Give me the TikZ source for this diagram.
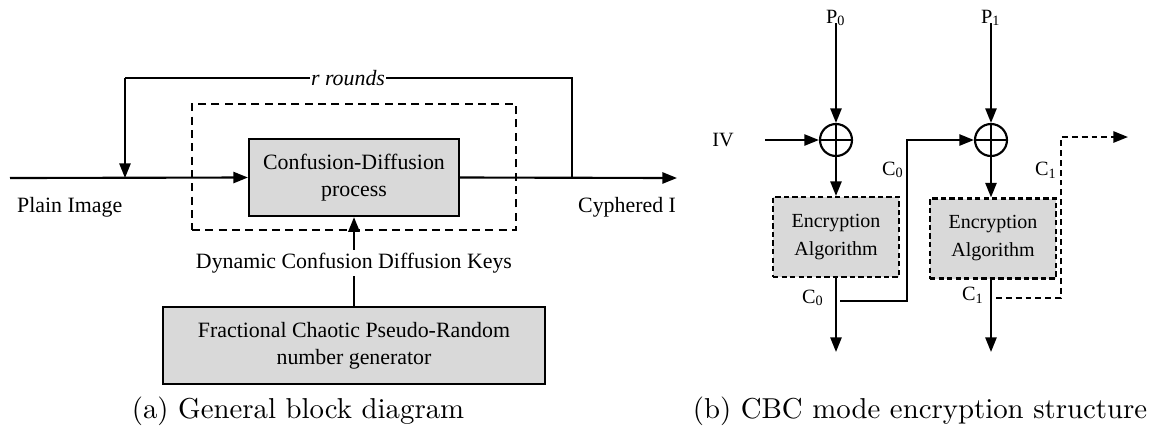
\documentclass[tikz,border=0pt]{standalone}
\usepackage{fontspec}
\newfontfamily\tms{Liberation Serif}
\usetikzlibrary{arrows.meta}
\definecolor{boxgray}{RGB}{217,217,217}
\tikzset{
 lbl/.style={font=\tms\fontsize{8.2}{9.8}\selectfont, inner sep=1pt},
 rlbl/.style={font=\tms\fontsize{7.6}{9}\selectfont, inner sep=1pt},
 blk/.style={draw, line width=0.8pt, fill=boxgray, font=\tms\fontsize{8.2}{10}\selectfont, align=center, inner sep=0pt},
 enc/.style={draw, dash pattern=on 2pt off 1.2pt, line width=0.8pt, fill=boxgray, font=\tms\fontsize{7.5}{10.5}\selectfont, align=center, minimum width=47.25pt, minimum height=30pt, inner sep=0pt},
 conn/.style={line width=0.8pt},
 arr/.style={conn, -{Triangle[length=5.5pt,width=4.2pt]}},
 xor/.style={circle, draw, line width=0.8pt, minimum size=12pt, inner sep=0pt,
   path picture={\draw[line width=0.8pt] (path picture bounding box.north) -- (path picture bounding box.south) (path picture bounding box.west) -- (path picture bounding box.east);}},
 capt/.style={font=\fontsize{10.8}{12}\selectfont, inner sep=0pt, anchor=base},
}
\begin{document}
\begin{tikzpicture}[x=0.375pt,y=-0.375pt]
\useasboundingbox (0,0) rectangle (1152,438);
% ---------- (a) ----------
\node[draw, dash pattern=on 3pt off 2pt, line width=0.7pt, minimum width=121.5pt, minimum height=47.25pt, inner sep=0pt] (dash) at (354,167) {};
\node[blk, minimum width=78.75pt, minimum height=28.9pt] (cd) at (354,177.5) {Confusion-Diffusion\\process};
\node[blk, minimum width=143.25pt, minimum height=28.9pt] (fc) at (354,345.5) {Fractional Chaotic Pseudo-Random\\number generator};
\node[lbl] (keys) at (354,263) {Dynamic Confusion Diffusion Keys};
\coordinate (in) at (10,178);
\coordinate (out) at (677,178);
\coordinate (fbR) at (572,178);
\coordinate (fbL) at (125,178);
\draw[arr] (in) -- (cd.west);
\draw[arr] (cd.east) -- (out);
\draw[conn] (fbR) -- (572,78) -- (125,78) coordinate (fbT);
\draw[arr] (fbT) -- (fbL);
\node[lbl, fill=white, font=\tms\itshape\fontsize{8.2}{9.8}\selectfont, inner sep=0.5pt] (rr) at (348,78) {r rounds};
\draw[arr] (keys.north) -- (cd.south);
\draw[conn] (fc.north) -- (keys.south);
\node[lbl, anchor=west] (plain) at (14,207) {Plain Image};
\begin{scope}
\clip (560,190) rectangle (675,230);
\node[lbl, anchor=west] (cyph) at (575,207) {Cyphered Image};
\end{scope}
\node[capt] (capa) at (298,418) {(a) General block diagram};
% ---------- (b) ----------
\node[rlbl] (p0) at (836,18) {P\textsubscript{0}};
\node[rlbl] (p1) at (991,18) {P\textsubscript{1}};
\node[xor] (x0) at (836,140) {};
\node[xor] (x1) at (991,140) {};
\node[rlbl] (iv) at (723,140) {IV};
\coordinate (ivs) at (765,140);
\node[enc] (e0) at (836,237) {Encryption\\Algorithm};
\node[enc] (e1) at (993,238.5) {Encryption\\Algorithm};
\draw[arr] (p0.south) ++(0,-6) -- (x0.north);
\draw[arr] (p1.south) ++(0,-6) -- (x1.north);
\draw[arr] (ivs) -- (x0.west);
\draw[arr] (x0.south) -- (e0.north);
\draw[arr] (x1.south) -- (e1.north -| x1.south);
\coordinate (o0) at (836,352);
\coordinate (o1) at (991,352);
\draw[arr] (e0.south) -- (o0);
\draw[arr] (e1.south -| x1.south) -- (o1);
\coordinate (b0) at (840,301);
\draw[arr] (b0) -- (907,301) -- (907,140) -- (x1.west);
\coordinate (b1) at (996,298);
\coordinate (d1) at (1128,137);
\draw[arr, dash pattern=on 2.2pt off 1.5pt] (b1) -- (1061,298) -- (1061,137) -- (d1);
\node[rlbl] (c0a) at (813,298) {C\textsubscript{0}};
\node[rlbl] (c0b) at (893,170) {C\textsubscript{0}};
\node[rlbl] (c1a) at (973,295) {C\textsubscript{1}};
\node[rlbl] (c1b) at (1046,170) {C\textsubscript{1}};
\node[capt] (capb) at (920,418) {(b) CBC mode encryption structure};
\end{tikzpicture}
\end{document}
